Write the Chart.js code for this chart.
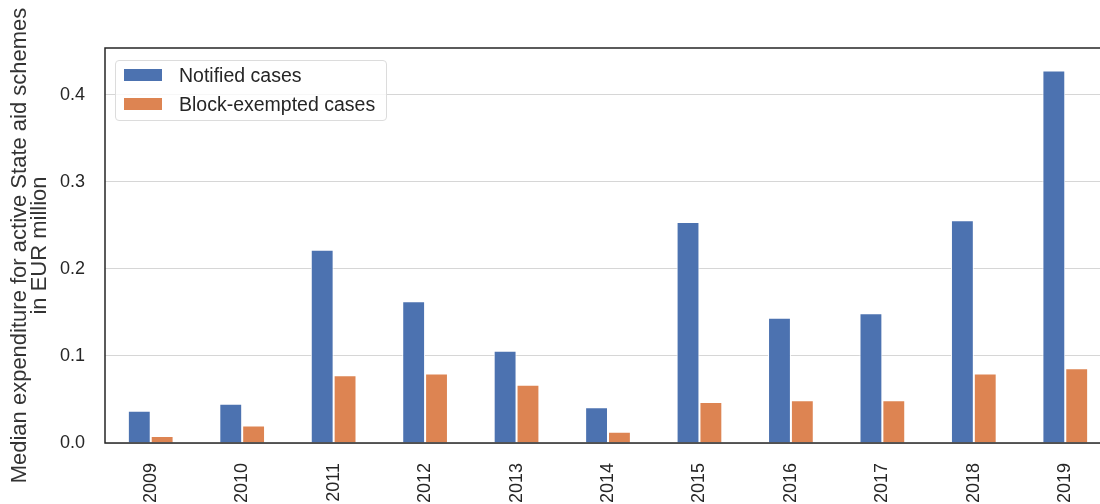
<!DOCTYPE html>
<html>
<head>
<meta charset="utf-8">
<script src="https://cdn.jsdelivr.net/npm/chart.js@4"></script>
<style>
    body { margin: 0; overflow: hidden; background: #fff; }
    #wrap { position: relative; width: 1120px; height: 504px; }
    #legenda {
        position: absolute; left: 115px; top: 60px; width: 272px; height: 61px;
        border: 1px solid #dcdcdc; border-radius: 4px; background: rgba(255,255,255,0.8);
        font-family: "Liberation Sans", Arial, sans-serif; font-size: 19.5px; color: #262626;
        box-sizing: border-box;
    }
    .item { position: absolute; left: 8px; height: 22px; display: flex; align-items: center; white-space: nowrap; }
    .cor { width: 38px; height: 12px; margin-right: 17px; }
</style>
</head>
<body>
<div id="wrap">
    <canvas id="grafico" width="1120" height="504"></canvas>
    <div id="legenda"></div>
</div>
<script>
/* ============================
   DADOS
============================ */

const anos = ["2009", "2010", "2011", "2012", "2013", "2014", "2015", "2016", "2017", "2018", "2019"];
const notificados = [0.037, 0.045, 0.222, 0.163, 0.106, 0.041, 0.254, 0.144, 0.149, 0.256, 0.428];
const isentos = [0.008, 0.020, 0.078, 0.080, 0.067, 0.013, 0.047, 0.049, 0.049, 0.080, 0.086];
const ticksY = [0.0, 0.1, 0.2, 0.3, 0.4];

const fonte = "'Liberation Sans', Arial, sans-serif";
const corTexto = "#262626";

/* ============================
   MOLDURA DO GRÁFICO
============================ */

const moldura = {
    id: "moldura",
    afterDatasetsDraw(chart) {
        const { ctx, chartArea: a } = chart;
        ctx.save();
        ctx.strokeStyle = corTexto;
        ctx.lineWidth = 1.5;
        ctx.strokeRect(a.left, a.top, a.right - a.left, a.bottom - a.top);
        ctx.restore();
    }
};

const ctx = document.getElementById("grafico").getContext("2d");

const grafico = new Chart(ctx, {
    type: "bar",
    data: {
        labels: anos,
        datasets: [
            { label: "Notified cases", data: notificados, backgroundColor: "#4c72b0", borderColor: "#ffffff", borderWidth: 1 },
            { label: "Block-exempted cases", data: isentos, backgroundColor: "#dd8452", borderColor: "#ffffff", borderWidth: 1 }
        ]
    },
    options: {
        responsive: false,
        animation: false,
        layout: { padding: { top: 48, right: 9, left: 0, bottom: 0 } },
        datasets: { bar: { categoryPercentage: 0.5, barPercentage: 1.0 } },
        plugins: { legend: { display: false }, tooltip: { enabled: false } },
        scales: {
            x: {
                grid: { display: false, drawTicks: false },
                border: { display: false },
                ticks: {
                    minRotation: 90, maxRotation: 90, padding: 20,
                    color: corTexto, font: { family: fonte, size: 18 }
                },
                afterFit(scale) { scale.height = 61; }
            },
            y: {
                min: 0,
                max: 0.454,
                grid: { color: "#d6d6d6", lineWidth: 1, drawTicks: false },
                border: { display: false },
                afterBuildTicks(scale) { scale.ticks = ticksY.map(v => ({ value: v })); },
                ticks: {
                    padding: 20,
                    color: corTexto,
                    font: { family: fonte, size: 18 },
                    callback: v => v.toFixed(1)
                },
                title: {
                    display: true,
                    text: ["Median expenditure for active State aid schemes", "in EUR million"],
                    color: "#333333",
                    font: { family: fonte, size: 22, lineHeight: "20px" },
                    padding: { top: 10, bottom: 0 }
                },
                afterFit(scale) { scale.width = 105; }
            }
        }
    },
    plugins: [moldura]
});

/* ============================
   LEGENDA
============================ */

const legenda = document.getElementById("legenda");
grafico.data.datasets.forEach((ds, i) => {
    const item = document.createElement("div");
    item.className = "item";
    item.style.top = (3 + i * 29) + "px";
    item.innerHTML = '<span class="cor" style="background:' + ds.backgroundColor + '"></span>' + ds.label;
    legenda.appendChild(item);
});
</script>
</body>
</html>
